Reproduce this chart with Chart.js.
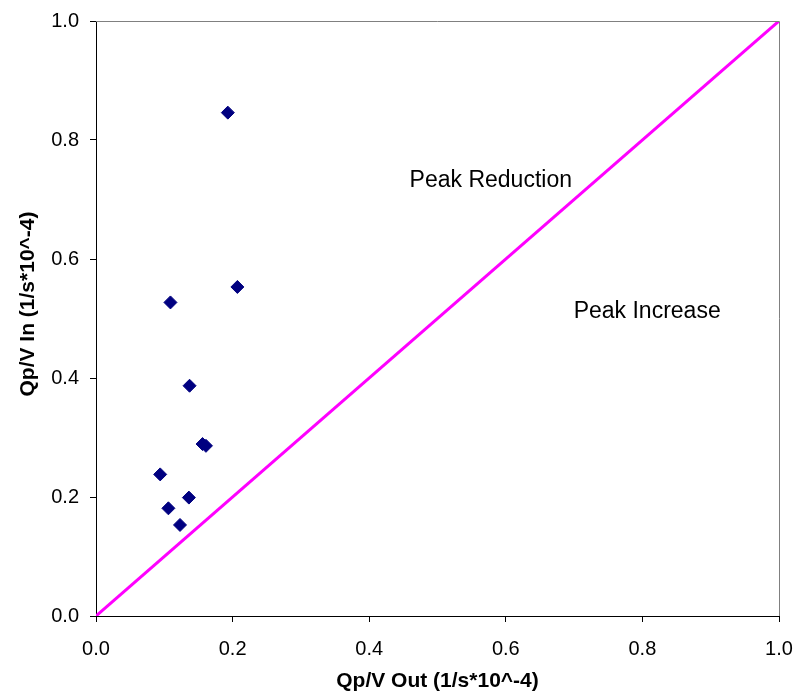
<!DOCTYPE html>
<html>
<head>
<meta charset="utf-8">
<script src="https://cdn.jsdelivr.net/npm/chart.js@4/dist/chart.umd.min.js"></script>
<style>
  html, body { margin: 0; padding: 0; background: #fff; }
  #wrap { width: 798px; height: 698px; }
</style>
</head>
<body>
<div id="wrap"><canvas id="chart"></canvas></div>
<script>
// values
const qpvOut = [0.193, 0.207, 0.109, 0.137, 0.156, 0.161, 0.094, 0.136, 0.106, 0.123];
const qpvIn  = [0.846, 0.553, 0.527, 0.387, 0.289, 0.286, 0.238, 0.199, 0.181, 0.153];
const lineX = [0, 1];
const lineY = [0, 1];
const tickValues = [0, 0.2, 0.4, 0.6, 0.8, 1.0];

const points = qpvOut.map((x, i) => ({ x: x, y: qpvIn[i] }));
const diagonal = lineX.map((x, i) => ({ x: x, y: lineY[i] }));

const FONT = "'Liberation Sans', Arial, sans-serif";

// frame (grey top/right), region labels, y title
const extras = {
  id: 'extras',
  afterDraw(chart) {
    const { ctx, chartArea: a, scales } = chart;
    ctx.save();
    ctx.strokeStyle = '#808080';
    ctx.lineWidth = 1;
    ctx.beginPath();
    ctx.moveTo(a.left, a.top + 0.5);
    ctx.lineTo(a.right + 0.5, a.top + 0.5);
    ctx.lineTo(a.right + 0.5, a.bottom);
    ctx.stroke();

    ctx.fillStyle = '#000';
    ctx.font = '23px ' + FONT;
    ctx.textAlign = 'center';
    ctx.textBaseline = 'middle';
    ctx.fillText('Peak Reduction', scales.x.getPixelForValue(0.578), scales.y.getPixelForValue(0.731));
    ctx.fillText('Peak Increase', scales.x.getPixelForValue(0.807), scales.y.getPixelForValue(0.511));

    ctx.font = 'bold 21px ' + FONT;
    ctx.translate(28, 304);
    ctx.rotate(-Math.PI / 2);
    ctx.fillText('Qp/V In (1/s*10^-4)', 0, 0);
    ctx.restore();
  }
};

new Chart(document.getElementById('chart'), {
  type: 'scatter',
  data: {
    datasets: [
      {
        label: 'data',
        data: points,
        pointStyle: 'rectRot',
        pointRadius: 6.5,
        backgroundColor: '#000080',
        borderColor: '#000080',
        borderWidth: 1,
        order: 1
      },
      {
        label: '1:1',
        type: 'line',
        data: diagonal,
        borderColor: '#FF00FF',
        borderWidth: 3,
        pointRadius: 0,
        fill: false,
        order: 2
      }
    ]
  },
  options: {
    responsive: true,
    maintainAspectRatio: false,
    animation: false,
    layout: { padding: { top: 21, right: 19, left: 0, bottom: 0 } },
    plugins: { legend: { display: false }, tooltip: { enabled: false } },
    scales: {
      x: {
        type: 'linear',
        min: 0, max: 1,
        afterBuildTicks: s => { s.ticks = tickValues.map(v => ({ value: v })); },
        afterFit: s => { s.height = 82; s.paddingLeft = 0; s.paddingRight = 0; },
        ticks: { callback: v => v.toFixed(1), color: '#000', font: { family: FONT, size: 20 }, padding: 15, maxRotation: 0 },
        grid: { drawOnChartArea: false, tickLength: 6, color: '#000' },
        border: { color: '#000' },
        title: { display: true, text: 'Qp/V Out (1/s*10^-4)', color: '#000', font: { family: FONT, size: 21, weight: 'bold' }, padding: { top: 6 } }
      },
      y: {
        type: 'linear',
        min: 0, max: 1,
        afterBuildTicks: s => { s.ticks = tickValues.map(v => ({ value: v })); },
        afterFit: s => { s.width = 96; s.paddingTop = 0; s.paddingBottom = 0; },
        ticks: { callback: v => v.toFixed(1), color: '#000', font: { family: FONT, size: 20 }, padding: 11 },
        grid: { drawOnChartArea: false, tickLength: 6, color: '#000' },
        border: { color: '#000' }
      }
    }
  },
  plugins: [extras]
});
</script>
</body>
</html>
